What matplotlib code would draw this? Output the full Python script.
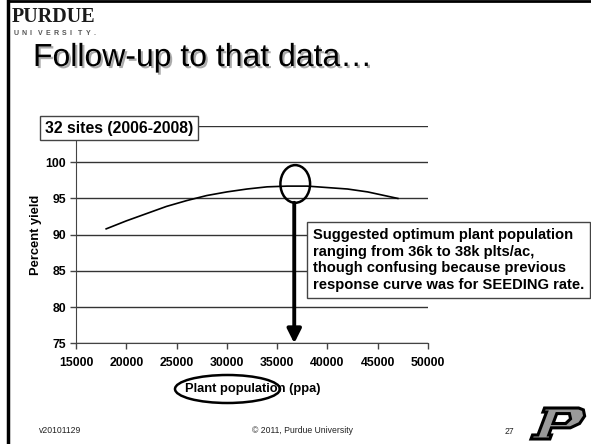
import numpy as np
import matplotlib
matplotlib.use('Agg')
import matplotlib.pyplot as plt
import matplotlib.patheffects as pe
from matplotlib.patches import Ellipse, PathPatch
from matplotlib.path import Path
from matplotlib.lines import Line2D

plt.rcParams['font.family'] = ['Liberation Sans', 'DejaVu Sans']

# data
population = [18000, 20000, 22000, 24000, 26000, 28000, 30000, 32000,
              34000, 36000, 38000, 40000, 42000, 44000, 46000, 47000]
percent_yield = [90.8, 91.9, 92.9, 93.9, 94.7, 95.4, 95.9, 96.3,
                 96.6, 96.7, 96.7, 96.5, 96.3, 95.9, 95.3, 95.0]
optimum_x = 36800
optimum_y = 97.0
x_ticks = [15000, 20000, 25000, 30000, 35000, 40000, 45000, 50000]
y_ticks = [75, 80, 85, 90, 95, 100, 105]
y_tick_labels = ['75', '80', '85', '90', '95', '100', '']

W, H = 591, 444
fig = plt.figure(figsize=(W / 100, H / 100), dpi=100)


def fx(x):
    return x / W


def fy(y):
    return 1 - y / H


# slide frame
fig.add_artist(Line2D([fx(8), fx(8)], [0, 1], color='black', lw=2.5, transform=fig.transFigure))
fig.add_artist(Line2D([fx(8), 1], [fy(1), fy(1)], color='black', lw=2, transform=fig.transFigure))

# Purdue wordmark
fig.text(fx(12), fy(22), 'PURDUE', family='Liberation Serif', weight='bold', fontsize=14.5,
         color='#1a1a1a', va='baseline')
for i, ch in enumerate('UNIVERSITY.'):
    fig.text(fx(14 + i * 8), fy(35), ch, fontsize=5, weight='bold', color='#555555', va='baseline')

# title with shadow
fig.text(fx(33), fy(66), 'Follow-up to that data\u2026', fontsize=23, color='black', va='baseline',
         path_effects=[pe.SimplePatchShadow(offset=(1.5, -1.5), shadow_rgbFace='#888888', alpha=0.7),
                       pe.Normal()])

# chart
ax = fig.add_axes([fx(76), fy(343.3), (428 - 76) / W, (343.3 - 126) / H])
ax.patch.set_alpha(0)
ax.plot(population, percent_yield, color='black', lw=1.2, zorder=3)
ax.set_xlim(15000, 50000)
ax.set_ylim(75, 105)
ax.set_xticks(x_ticks)
ax.set_xticklabels([str(v) for v in x_ticks])
ax.set_yticks(y_ticks)
ax.set_yticklabels(y_tick_labels)
for lab in ax.get_xticklabels() + ax.get_yticklabels():
    lab.set_fontweight('bold')
ax.tick_params(axis='both', labelsize=8.8, length=4, width=1, color='#444444', pad=6)
ax.tick_params(axis='y', pad=3)
ax.yaxis.grid(True, color='#333333', lw=1)
ax.set_axisbelow(True)
for s in ['top', 'right']:
    ax.spines[s].set_visible(False)
ax.spines['left'].set_color('#444444')
ax.spines['bottom'].set_color('#444444')

ax.add_patch(Ellipse((optimum_x, optimum_y), 2950, 5.2, fill=False, ec='black', lw=1.8, zorder=4))
ax.annotate('', xy=(optimum_x - 100, 75), xytext=(optimum_x - 100, optimum_y - 2.6),
            arrowprops=dict(arrowstyle='-|>', color='black', lw=2.8, mutation_scale=21,
                            shrinkA=0, shrinkB=0), zorder=5)

ax.set_xlabel('Plant population (ppa)', fontsize=9.3, weight='bold')
ax.xaxis.set_label_coords((253 - 76) / (428 - 76), -(389 - 343.3) / (343.3 - 126))
ax.xaxis.label.set_va('center')
ax.set_ylabel('Percent yield', fontsize=9.3, weight='bold')
ax.yaxis.set_label_coords(-(76 - 36) / (428 - 76), (343.3 - 234.5) / (343.3 - 126))
ax.yaxis.label.set_va('center')

# boxed texts
fig.text(fx(119), fy(128), '32 sites (2006-2008)', fontsize=11.3, weight='bold', ha='center', va='center',
         bbox=dict(boxstyle='square,pad=0.3', fc='white', ec='#444444', lw=1))
fig.text(fx(313), fy(260), 'Suggested optimum plant population\nranging from 36k to 38k plts/ac,\n'
         'though confusing because previous\nresponse curve was for SEEDING rate.',
         fontsize=10.6, weight='bold', ha='left', va='center', linespacing=1.25,
         bbox=dict(boxstyle='square,pad=0.4', fc='white', ec='#444444', lw=1))

# ellipse around axis label
fig.add_artist(Ellipse((fx(227.5), fy(389)), 105 / W, 28 / H, fill=False, ec='black', lw=1.8,
                       transform=fig.transFigure))

# footer
fig.text(fx(39), fy(430), 'v20101129', fontsize=6.2, va='center', color='#222222')
fig.text(fx(302), fy(430), '\u00a9 2011, Purdue University', fontsize=6.2, ha='center', va='center',
         color='#222222')
fig.text(fx(509), fy(431), '27', fontsize=6.2, ha='center', va='center', color='#222222')

# block P logo
outer = [(0, 0), (0.42, 0), (0.42, 0.13), (0.36, 0.13), (0.36, 0.36), (0.78, 0.36), (0.95, 0.5),
         (1.0, 0.74), (0.92, 0.94), (0.8, 1.0), (0.04, 1.0), (0.04, 0.87), (0.12, 0.87), (0.12, 0.13),
         (0, 0.13), (0, 0)]
hole = [(0.36, 0.5), (0.64, 0.5), (0.71, 0.65), (0.64, 0.82), (0.36, 0.82), (0.36, 0.5)]


def to_fig(pts):
    out = []
    for x, y in pts:
        xs = x + 0.26 * y
        out.append((fx(531 + xs * 45), fy(439 - y * 31)))
    return out


verts = to_fig(outer) + to_fig(hole[::-1])
codes = ([Path.MOVETO] + [Path.LINETO] * (len(outer) - 2) + [Path.CLOSEPOLY] +
         [Path.MOVETO] + [Path.LINETO] * (len(hole) - 2) + [Path.CLOSEPOLY])
fig.add_artist(PathPatch(Path(verts, codes), fc='#9a9a9a', ec='black', lw=2.2,
                         transform=fig.transFigure))

fig.savefig('out.png', dpi=100)
